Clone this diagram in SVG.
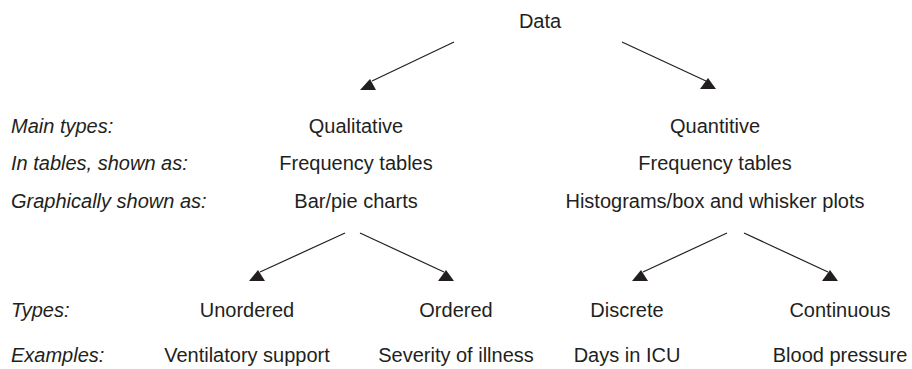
<svg xmlns="http://www.w3.org/2000/svg" width="912" height="369" viewBox="0 0 912 369">
<style>
text{font-family:"Liberation Sans",Arial,sans-serif;font-size:20px;fill:#231f20}
.n{text-anchor:middle}
.lbl{font-style:italic}
.c line{stroke:#231f20;stroke-width:1.2}
.c polygon{fill:#231f20}
</style>
<rect width="912" height="369" fill="#fff"/>
<g id="labels">
<text class="lbl" x="11" y="133">Main types:</text>
<text class="lbl" x="11" y="170">In tables, shown as:</text>
<text class="lbl" x="11" y="208">Graphically shown as:</text>
<text class="lbl" x="11" y="317">Types:</text>
<text class="lbl" x="11" y="362">Examples:</text>
</g>
<g id="data"><text class="n" x="540" y="28">Data</text></g>
<g id="qualitative">
<text class="n" x="356" y="133">Qualitative</text>
<text class="n" x="356" y="170">Frequency tables</text>
<text class="n" x="356" y="208">Bar/pie charts</text>
</g>
<g id="quantitive">
<text class="n" x="715" y="133">Quantitive</text>
<text class="n" x="715" y="170">Frequency tables</text>
<text class="n" x="715" y="208">Histograms/box and whisker plots</text>
</g>
<g id="unordered">
<text class="n" x="247" y="317">Unordered</text>
<text class="n" x="247" y="362">Ventilatory support</text>
</g>
<g id="ordered">
<text class="n" x="456" y="317">Ordered</text>
<text class="n" x="456" y="362">Severity of illness</text>
</g>
<g id="discrete">
<text class="n" x="627" y="317">Discrete</text>
<text class="n" x="627" y="362">Days in ICU</text>
</g>
<g id="continuous">
<text class="n" x="840" y="317">Continuous</text>
<text class="n" x="840" y="362">Blood pressure</text>
</g>
<g id="connectors" class="c">
<line x1="454" y1="42" x2="372" y2="81"/>
<polygon points="360,90 376,90 370,79"/>
<line x1="622" y1="42" x2="706" y2="81"/>
<polygon points="700,89 716,89 708,78"/>
<line x1="345" y1="233" x2="260" y2="272"/>
<polygon points="249,281 265,281 258,270"/>
<line x1="360" y1="233" x2="444" y2="272"/>
<polygon points="438,281 454,281 446,270"/>
<line x1="727" y1="233" x2="643" y2="272"/>
<polygon points="632,281 648,281 641,270"/>
<line x1="744" y1="233" x2="828" y2="272"/>
<polygon points="822,281 838,281 830,270"/>
</g>
</svg>
